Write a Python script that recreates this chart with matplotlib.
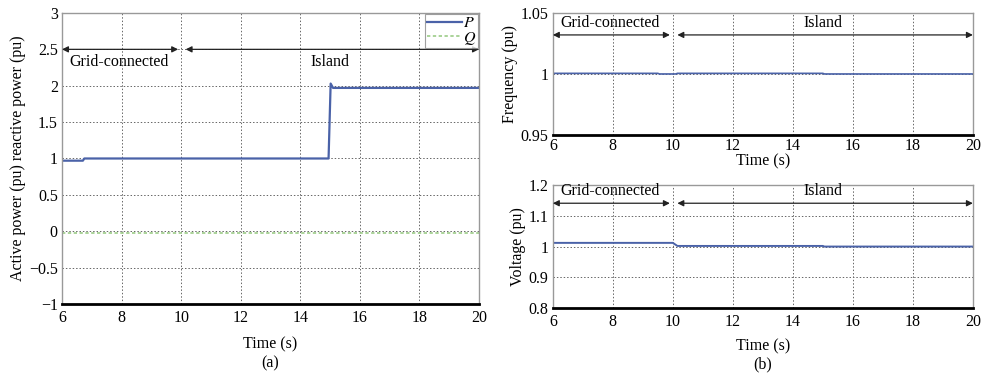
import matplotlib
matplotlib.use("Agg")
import matplotlib.pyplot as plt

plt.rcParams['font.family'] = ['Liberation Serif', 'DejaVu Serif']
plt.rcParams['mathtext.fontset'] = 'stix'

# Data
t_p = [6, 6.7, 6.75, 14.95, 15.02, 15.1, 20]
p_vals = [0.97, 0.97, 1.0, 1.0, 2.03, 1.97, 1.97]
t_q = [6, 20]
q_vals = [-0.02, -0.02]

t_f = [6, 9.5, 9.55, 10.1, 10.15, 15.0, 15.05, 20]
f_vals = [1.0005, 1.0005, 1.0, 1.0, 1.0005, 1.0005, 1.0, 1.0]

t_v = [6, 10.0, 10.15, 15.0, 15.05, 20]
v_vals = [1.012, 1.012, 1.002, 1.002, 1.0, 1.0]

xticks = [6, 8, 10, 12, 14, 16, 18, 20]
yticks_a = [-1, -0.5, 0, 0.5, 1, 1.5, 2, 2.5, 3]
yticks_f = [0.95, 1, 1.05]
yticks_v = [0.8, 0.9, 1, 1.1, 1.2]

blue = '#4a62a8'
green = '#9ccc88'
fs = 11.5

fig = plt.figure(figsize=(9.89, 3.77), dpi=100)

def style(ax, ylim, yticks, ylabels, xpad=4):
    ax.set_xlim(6, 20)
    ax.set_ylim(*ylim)
    ax.set_xticks(xticks)
    ax.set_xticklabels([str(x) for x in xticks], fontsize=fs)
    ax.set_yticks(yticks)
    ax.set_yticklabels(ylabels, fontsize=fs)
    ax.grid(True, color='#666666', linestyle=(0, (1.5, 2)), linewidth=0.7)
    ax.tick_params(axis='y', length=0, pad=3)
    ax.tick_params(axis='x', length=0, pad=xpad)
    for s in ['top', 'right', 'left']:
        ax.spines[s].set_color('#999999')
        ax.spines[s].set_linewidth(1.0)
    ax.spines['bottom'].set_linewidth(2.0)
    ax.spines['bottom'].set_color('black')

def arrows(ax, y, ytext):
    kw = dict(arrowstyle='<|-|>', color='#222222', lw=0.9, mutation_scale=9, shrinkA=0, shrinkB=0)
    ax.annotate('', xy=(6.0, y), xytext=(9.9, y), arrowprops=kw)
    ax.annotate('', xy=(10.15, y), xytext=(20.0, y), arrowprops=kw)
    ax.text(6.25, ytext, 'Grid-connected', fontsize=fs, ha='left', va='center')
    ax.text(15.0, ytext, 'Island', fontsize=fs, ha='center', va='center')

# (a)
ax1 = fig.add_axes([0.0627, 0.1936, 0.4216, 0.772])
ax1.plot(t_p, p_vals, color=blue, lw=1.6, label='$P$')
ax1.plot(t_q, q_vals, color=green, lw=1.2, linestyle=(0, (2, 1.5)), label='$Q$')
style(ax1, (-1, 3), yticks_a, ['\u22121', '\u22120.5', '0', '0.5', '1', '1.5', '2', '2.5', '3'])
arrows(ax1, 2.5, 2.33)
ax1.set_ylabel('Active power (pu) reactive power (pu)', fontsize=fs, labelpad=2)
ax1.set_xlabel('Time (s)\n(a)', fontsize=fs, labelpad=8, linespacing=1.2)
leg = ax1.legend(loc='upper right', fontsize=fs, handlelength=2.2, handletextpad=0.1,
                 borderpad=0.1, labelspacing=-0.1, borderaxespad=0.05, frameon=True,
                 fancybox=False, edgecolor='#888888', markerfirst=True)
leg.get_frame().set_linewidth(0.8)

# (b) top
ax2 = fig.add_axes([0.559, 0.642, 0.4247, 0.3236])
ax2.plot(t_f, f_vals, color=blue, lw=1.2)
style(ax2, (0.95, 1.05), yticks_f, ['0.95', '1', '1.05'], xpad=2)
arrows(ax2, 1.032, 1.0415)
ax2.set_ylabel('Frequency (pu)', fontsize=fs, labelpad=2)
ax2.set_xlabel('Time (s)', fontsize=fs, labelpad=0)

# (b) bottom
ax3 = fig.add_axes([0.559, 0.183, 0.4247, 0.326])
ax3.plot(t_v, v_vals, color=blue, lw=1.4)
style(ax3, (0.8, 1.2), yticks_v, ['0.8', '0.9', '1', '1.1', '1.2'])
arrows(ax3, 1.141, 1.18)
ax3.set_ylabel('Voltage (pu)', fontsize=fs, labelpad=2)
ax3.set_xlabel('Time (s)\n(b)', fontsize=fs, labelpad=6, linespacing=1.2)

fig.savefig('out.png', dpi=100)
